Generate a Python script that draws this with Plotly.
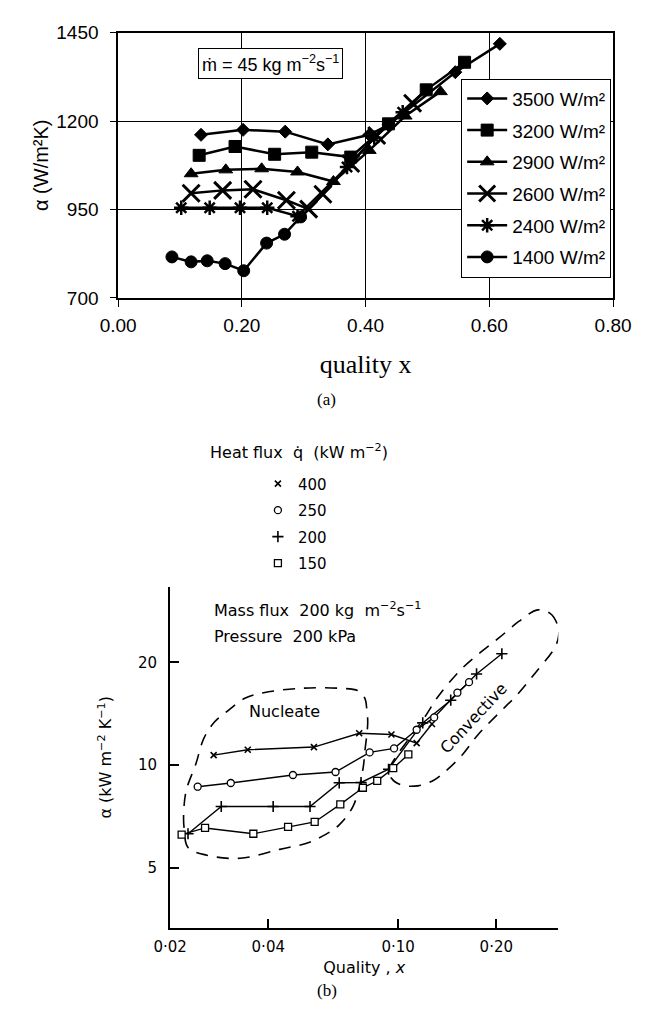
import plotly.graph_objects as go

# ---------------- Panel (a): alpha vs quality, m = 45 kg m-2 s-1 ----------------
a_names = ["3500 W/m²", "3200 W/m²", "2900 W/m²", "2600 W/m²", "2400 W/m²", "1400 W/m²"]

a_3500_x = [0.134, 0.202, 0.270, 0.339, 0.406, 0.437, 0.545, 0.617]
a_3500_y = [1161, 1175, 1170, 1134, 1161, 1189, 1338, 1418]
a_3200_x = [0.131, 0.189, 0.253, 0.313, 0.376, 0.437, 0.498, 0.560]
a_3200_y = [1103, 1128, 1106, 1112, 1098, 1192, 1288, 1366]
a_2900_x = [0.118, 0.174, 0.232, 0.290, 0.348, 0.406, 0.464, 0.521]
a_2900_y = [1051, 1062, 1065, 1056, 1029, 1117, 1214, 1283]
a_2600_x = [0.118, 0.169, 0.218, 0.272, 0.308, 0.331, 0.376, 0.418, 0.476]
a_2600_y = [996, 1004, 1007, 976, 951, 993, 1080, 1159, 1250]
a_2400_x = [0.102, 0.148, 0.197, 0.241, 0.290, 0.370, 0.414, 0.460]
a_2400_y = [955, 955, 955, 955, 931, 1070, 1153, 1225]
a_1400_x = [0.087, 0.118, 0.144, 0.173, 0.203, 0.240, 0.269, 0.295]
a_1400_y = [816, 802, 805, 797, 777, 855, 880, 929]

a_x_ticks = [0.0, 0.2, 0.4, 0.6, 0.8]
a_y_ticks = [700, 950, 1200, 1450]

# ---------------- Panel (b): alpha vs quality (log-log) ----------------
b_names = ["400", "250", "200", "150"]
b_400_x = [0.0272, 0.0346, 0.0552, 0.076, 0.0954, 0.114, 0.127]
b_400_y = [10.7, 11.1, 11.3, 12.4, 12.3, 11.6, 13.2]
b_250_x = [0.0243, 0.0307, 0.0476, 0.0643, 0.0818, 0.0972, 0.114, 0.129, 0.152, 0.165]
b_250_y = [8.65, 8.87, 9.36, 9.55, 10.9, 11.2, 12.7, 13.8, 16.3, 17.5]
b_200_x = [0.0227, 0.0287, 0.0414, 0.0537, 0.066, 0.077, 0.0935, 0.119, 0.145, 0.174, 0.208]
b_200_y = [6.3, 7.57, 7.57, 7.57, 8.88, 8.9, 9.73, 13.3, 15.5, 18.5, 21.2]
b_150_x = [0.0217, 0.0256, 0.036, 0.046, 0.0555, 0.0665, 0.078, 0.0863, 0.0966, 0.1075]
b_150_y = [6.26, 6.55, 6.30, 6.6, 6.82, 7.68, 8.59, 9.0, 9.8, 10.75]

# regime outlines (dashed) in data coordinates
nucleate_x = [0.0224, 0.0220, 0.0221, 0.0227, 0.0259, 0.0328, 0.0434, 0.0530, 0.0598, 0.0660,
              0.0730, 0.0780, 0.0791, 0.0807, 0.0802, 0.0791, 0.0755, 0.0660, 0.0506, 0.0387,
              0.0339, 0.0297, 0.0274, 0.0254, 0.0240, 0.0224]
nucleate_y = [8.41, 7.10, 6.5, 5.74, 5.45, 5.34, 5.67, 5.93, 6.26, 6.69,
              7.63, 9.73, 11.0, 13.3, 14.5, 15.7, 16.5, 16.8, 16.8, 16.3,
              15.7, 14.3, 13.4, 12.0, 10.1, 8.41]
convective_x = [0.268, 0.293, 0.307, 0.311, 0.303, 0.263, 0.230, 0.205, 0.176, 0.157,
                0.140, 0.129, 0.115, 0.102, 0.0953, 0.094, 0.0986, 0.109, 0.1205, 0.133,
                0.157, 0.180, 0.205, 0.235, 0.268]
convective_y = [28.5, 27.8, 26.0, 24.2, 22.2, 18.6, 15.95, 14.3, 12.3, 10.7,
                9.61, 9.05, 8.70, 8.76, 9.17, 9.73, 10.6, 12.1, 13.8, 15.95,
                19.2, 21.5, 23.7, 26.4, 28.5]

b_x_ticks = [0.02, 0.04, 0.10, 0.20]
b_x_ticktext = ["0·02", "0·04", "0·10", "0·20"]
b_y_ticks = [5, 10, 20]

W, H = 649, 1023
SANS = "Liberation Sans"
SERIF = "Liberation Serif"
BF = "DejaVu Sans"

fig = go.Figure()

a_series = [
    (a_3500_x, a_3500_y, "diamond", 10, 1),
    (a_3200_x, a_3200_y, "square", 12, 1),
    (a_2900_x, a_2900_y, "triangle-up", 12, 1),
    (a_2600_x, a_2600_y, "x-thin-open", 17, 3),
    (a_2400_x, a_2400_y, "asterisk-open", 12, 2.5),
    (a_1400_x, a_1400_y, "circle", 12, 1),
]
for name, (xs, ys, sym, sz, lw) in zip(a_names, a_series):
    fig.add_trace(go.Scatter(
        x=xs, y=ys, name=name, mode="lines+markers", xaxis="x", yaxis="y",
        line=dict(color="black", width=2.5),
        marker=dict(symbol=sym, size=sz, color="black", line=dict(color="black", width=lw)),
        legend="legend", legendgroup="a" + name,
    ))

# outlines in panel (b)
for ox, oy in [(nucleate_x, nucleate_y), (convective_x, convective_y)]:
    fig.add_trace(go.Scatter(
        x=ox, y=oy, mode="lines", xaxis="x2", yaxis="y2", showlegend=False, hoverinfo="skip",
        line=dict(color="black", width=1.6, dash="12px,9px", shape="spline", smoothing=1.0),
    ))

b_series = [
    (b_400_x, b_400_y, "x-thin-open", 6, 1.6, "black"),
    (b_250_x, b_250_y, "circle", 7, 1.3, "white"),
    (b_200_x, b_200_y, "cross-thin-open", 8, 1.6, "black"),
    (b_150_x, b_150_y, "square", 7, 1.3, "white"),
]
for name, (xs, ys, sym, sz, lw, fc) in zip(b_names, b_series):
    fig.add_trace(go.Scatter(
        x=xs, y=ys, mode="lines", xaxis="x2", yaxis="y2", showlegend=False,
        line=dict(color="black", width=1.4), hoverinfo="skip",
    ))
for name, (xs, ys, sym, sz, lw, fc) in zip(b_names, b_series):
    fig.add_trace(go.Scatter(
        x=xs, y=ys, name=name, mode="markers", xaxis="x2", yaxis="y2",
        marker=dict(symbol=sym, size=sz, color=fc, line=dict(color="black", width=lw)),
        legend="legend2", legendgroup="b" + name,
    ))


def px_x(p):
    return p / W


def px_y(p):
    return 1 - p / H


fig.update_layout(
    width=W, height=H,
    margin=dict(l=0, r=0, t=0, b=0),
    paper_bgcolor="white", plot_bgcolor="white",
    font=dict(family=SANS, color="black"),
    xaxis=dict(
        domain=[px_x(106), px_x(630)], anchor="y", range=[0, 0.8],
        tickvals=a_x_ticks, tickformat=".2f",
        showgrid=True, gridcolor="black", gridwidth=1,
        showline=True, linecolor="black", linewidth=1.5, mirror=True,
        ticks="outside", ticklen=7, tickcolor="black", tickwidth=1.2,
        tickfont=dict(family=SANS, size=19, color="black"), zeroline=False,
        ticklabelstandoff=2,
        title=dict(text="quality x", font=dict(family=SERIF, size=26, color="black"), standoff=20),
    ),
    yaxis=dict(
        domain=[px_y(294), px_y(23)], anchor="x", range=[700, 1450],
        tickvals=a_y_ticks,
        showgrid=True, gridcolor="black", gridwidth=1,
        showline=True, linecolor="black", linewidth=1.5, mirror=True,
        ticks="outside", ticklen=6, tickcolor="black", tickwidth=1.2,
        tickfont=dict(family=SANS, size=19, color="black"), zeroline=False,
        ticklabelstandoff=8,
        title=dict(text="α (W/m²K)", font=dict(family=SANS, size=20, color="black"), standoff=2),
    ),
    xaxis2=dict(
        type="log", domain=[px_x(161), px_x(572)], anchor="y2", range=[-1.699, -0.509],
        tickvals=b_x_ticks, ticktext=b_x_ticktext,
        showgrid=False, showline=True, linecolor="black", linewidth=2,
        ticks="inside", ticklen=9, tickcolor="black", tickwidth=1.8,
        tickfont=dict(family=BF, size=15, color="black"), zeroline=False,
        ticklabelstandoff=4,
        title=dict(text="Quality , <i>x</i>", font=dict(family=BF, size=16, color="black"), standoff=7),
    ),
    yaxis2=dict(
        type="log", domain=[px_y(937), px_y(589)], anchor="x2", range=[0.524, 1.522],
        tickvals=b_y_ticks,
        showgrid=False, showline=True, linecolor="black", linewidth=2,
        ticks="inside", ticklen=9, tickcolor="black", tickwidth=1.8,
        tickfont=dict(family=BF, size=15, color="black"), zeroline=False,
        ticklabelstandoff=8,
        title=dict(text="α (kW m<sup>−2</sup> K<sup>−1</sup>)", font=dict(family=BF, size=16, color="black"), standoff=22),
    ),
    legend=dict(
        x=px_x(628), xanchor="right", y=px_y(70), yanchor="top",
        bgcolor="white", bordercolor="black", borderwidth=1,
        font=dict(family=SANS, size=19, color="black"),
        traceorder="grouped", tracegroupgap=4, itemwidth=40,
    ),
    legend2=dict(
        x=px_x(254), xanchor="left", y=px_y(467), yanchor="top",
        bgcolor="rgba(0,0,0,0)", borderwidth=0,
        font=dict(family=BF, size=15, color="black"),
        traceorder="grouped", tracegroupgap=4, itemwidth=30,
    ),
    annotations=[
        dict(text="ṁ = 45 kg m<sup>−2</sup>s<sup>−1</sup>", x=px_x(267), y=px_y(39),
             xref="paper", yref="paper", showarrow=False,
             font=dict(family=SANS, size=18, color="black"),
             bordercolor="black", borderwidth=1, borderpad=3, bgcolor="white"),
        dict(text="(a)", x=px_x(327), y=px_y(398), xref="paper", yref="paper", showarrow=False,
             font=dict(family=SERIF, size=17, color="black")),
        dict(text="(b)", x=px_x(327), y=px_y(1013), xref="paper", yref="paper", showarrow=False,
             font=dict(family=SERIF, size=17, color="black")),
        dict(text="Heat flux  q̇  (kW m<sup>−2</sup>)", x=px_x(297), y=px_y(451),
             xref="paper", yref="paper", showarrow=False,
             font=dict(family=BF, size=16, color="black")),
        dict(text="Mass flux  200 kg  m<sup>−2</sup>s<sup>−1</sup>", x=px_x(205), y=px_y(612),
             xref="paper", yref="paper", xanchor="left", showarrow=False,
             font=dict(family=BF, size=16, color="black")),
        dict(text="Pressure  200 kPa", x=px_x(205), y=px_y(640),
             xref="paper", yref="paper", xanchor="left", showarrow=False,
             font=dict(family=BF, size=16, color="black")),
        dict(text="Nucleate", x=-1.349, y=1.158, xref="x2", yref="y2", showarrow=False,
             font=dict(family=BF, size=16, color="black")),
        dict(text="Convective", x=-0.770, y=1.137, xref="x2", yref="y2", showarrow=False,
             textangle=-47, font=dict(family=BF, size=16, color="black")),
    ],
)

fig.write_html("out.html")
